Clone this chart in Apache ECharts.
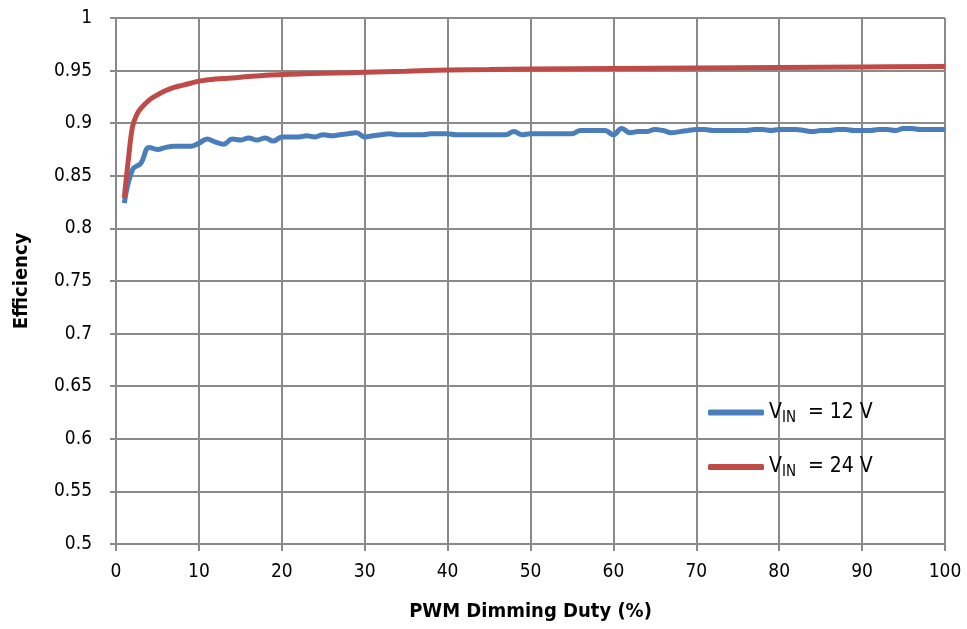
<!DOCTYPE html>
<html><head><meta charset="utf-8">
<script src="https://cdn.jsdelivr.net/npm/echarts@6/dist/echarts.min.js"></script>
<style>html,body{margin:0;padding:0;background:#fff}#c{width:967px;height:629px}</style>
</head><body><div id="c"></div>
<script>
const xTicks = [0,10,20,30,40,50,60,70,80,90,100];
const yTicks = [0.5,0.55,0.6,0.65,0.7,0.75,0.8,0.85,0.9,0.95,1];
const blueX = [1,2,3,4,5,6,7,8,9,10,11,12,13,14,15,16,17,18,19,20,21,22,23,24,25,26,27,28,29,30,31,32,33,34,35,36,37,38,39,40,41,42,43,44,45,46,47,48,49,50,51,52,53,54,55,56,57,58,59,60,61,62,63,64,65,66,67,68,69,70,71,72,73,74,75,76,77,78,79,80,81,82,83,84,85,86,87,88,89,90,91,92,93,94,95,96,97,98,99,100];
const blueY = [0.824,0.856,0.862,0.877,0.875,0.877,0.878,0.878,0.878,0.881,0.885,0.882,0.880,0.885,0.884,0.886,0.884,0.886,0.883,0.887,0.887,0.887,0.888,0.887,0.889,0.888,0.889,0.890,0.891,0.887,0.888,0.889,0.890,0.889,0.889,0.889,0.889,0.890,0.890,0.890,0.889,0.889,0.889,0.889,0.889,0.889,0.889,0.892,0.889,0.890,0.890,0.890,0.890,0.890,0.890,0.893,0.893,0.893,0.893,0.889,0.895,0.891,0.892,0.892,0.894,0.893,0.891,0.892,0.893,0.894,0.894,0.893,0.893,0.893,0.893,0.893,0.894,0.894,0.893,0.894,0.894,0.894,0.893,0.892,0.893,0.893,0.894,0.894,0.893,0.893,0.893,0.894,0.894,0.893,0.895,0.895,0.894,0.894,0.894,0.894];
const redX = [1,1.5,2,2.5,3,4,5,6,7,8,9,10,12,14,16,18,20,22,25,28,30,35,40,45,50,60,70,80,90,100];
const redY = [0.829,0.866,0.897,0.908,0.914,0.922,0.927,0.931,0.934,0.936,0.938,0.940,0.942,0.943,0.9445,0.9455,0.9462,0.9468,0.9475,0.948,0.9485,0.9495,0.9505,0.951,0.9515,0.952,0.9525,0.953,0.9535,0.954];
const seriesNames = ['12 V','24 V'];

const FONT = '"DejaVu Sans Condensed","Liberation Sans Narrow","Liberation Sans",sans-serif';
const zip = (xs, ys) => xs.map((x,i)=>[x, ys[i]]);
const chart = echarts.init(document.getElementById('c'), null, {renderer:'canvas'});
const gridLine = {show:true, lineStyle:{color:'#8a8a8a', width:2}};
chart.setOption({
  animation:false,
  backgroundColor:'#fff',
  grid:{left:116, right:22, top:18, bottom:85, containLabel:false},
  xAxis:{type:'value', min:0, max:100, interval:10,
    name:'PWM Dimming Duty (%)', nameLocation:'middle', nameGap:58,
    nameTextStyle:{fontFamily:FONT, fontSize:20, fontWeight:'bold', color:'#000'},
    axisLine:{show:true, lineStyle:{color:'#8a8a8a', width:2}},
    axisTick:{show:true, length:7, lineStyle:{color:'#8a8a8a', width:2}},
    axisLabel:{fontFamily:FONT, fontSize:19, color:'#000', margin:19,
      formatter:v=> xTicks.includes(v) ? String(v) : ''},
    splitLine:gridLine},
  yAxis:{type:'value', min:0.5, max:1, interval:0.05,
    name:'Efficiency', nameLocation:'middle', nameGap:84, nameRotate:90,
    nameTextStyle:{fontFamily:FONT, fontSize:20, fontWeight:'bold', color:'#000'},
    axisLine:{show:true, lineStyle:{color:'#8a8a8a', width:2}},
    axisTick:{show:true, length:6, lineStyle:{color:'#8a8a8a', width:2}},
    axisLabel:{fontFamily:FONT, fontSize:19, color:'#000', margin:24,
      formatter:v=>{ const t = yTicks.find(k=>Math.abs(k-v)<1e-9); return t===undefined?'':String(t);} },
    splitLine:gridLine},
  legend:{orient:'vertical', left:703, top:397, itemWidth:56, itemHeight:6, itemGap:31,
    icon:'roundRect',
    data:seriesNames,
    formatter:n=>'{v|V}{s|IN}{n|  = '+n+'}',
    textStyle:{fontFamily:FONT, fontSize:21, color:'#000',
      rich:{v:{fontFamily:FONT,fontSize:21,color:'#000'},
            s:{fontFamily:FONT,fontSize:15,color:'#000',padding:[11,0,0,0]},
            n:{fontFamily:FONT,fontSize:21,color:'#000'}}}},
  series:[
    {name:seriesNames[0], type:'line', data:zip(blueX, blueY), showSymbol:false, smooth:0.4,
      lineStyle:{color:'#4a7ebb', width:5}, itemStyle:{color:'#4a7ebb'}},
    {name:seriesNames[1], type:'line', data:zip(redX, redY), showSymbol:false, smooth:0.4,
      lineStyle:{color:'#be4b48', width:5}, itemStyle:{color:'#be4b48'}}
  ]
});
</script></body></html>
